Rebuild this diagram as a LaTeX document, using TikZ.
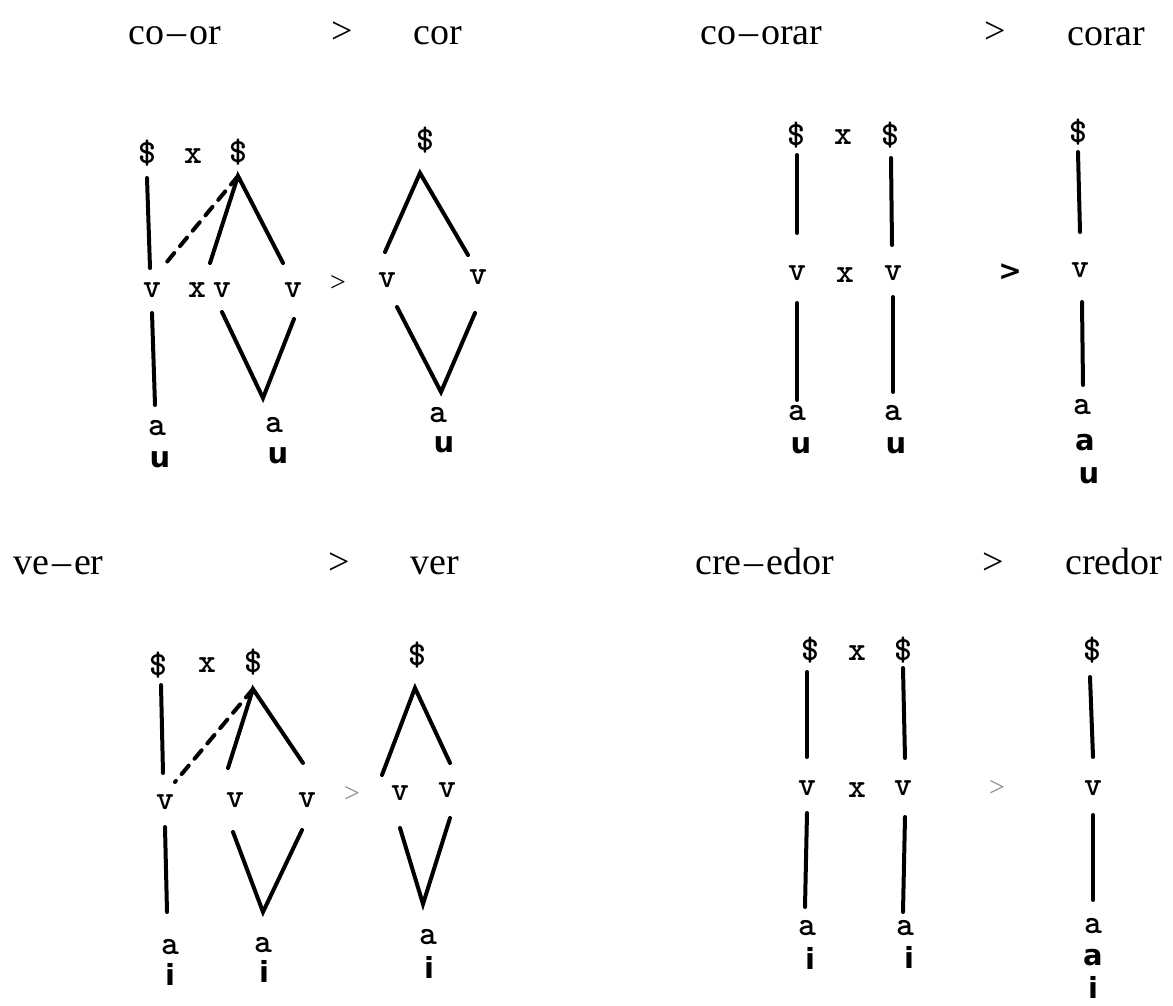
\documentclass[tikz,border=0pt]{standalone}
\usepackage{fontspec}
\setmainfont{Liberation Serif}
\newfontfamily\hwfont{DejaVu Sans}
\begin{document}
\begin{tikzpicture}[x=1pt,y=-1pt,
  title/.style={font=\fontsize{38}{40}\selectfont, anchor=base west, inner sep=0pt},
  gt/.style={font=\fontsize{38}{40}\selectfont, anchor=base, inner sep=0pt},
  lab/.style={font=\ttfamily\bfseries\fontsize{34}{36}\selectfont, inner sep=0pt},
  hand/.style={font=\hwfont\bfseries\fontsize{29}{30}\selectfont, inner sep=0pt},
  gtmark/.style={font=\fontsize{28}{30}\selectfont, inner sep=0pt},
  ln/.style={line width=4pt, line cap=round},
  dln/.style={ln, dash pattern=on 11pt off 9pt}]
\fill[white] (0,0) rectangle (1173,1005);
\useasboundingbox (0,0) rectangle (1173,1005);

% ---------- titles ----------
\node[title] (t1) at (128,44) {co\kern3pt--\kern3pt or};
\node[gt] (g1) at (342,43) {>};
\node[title] (t2) at (413,44) {cor};
\node[title] (t3) at (700,44) {co\kern3pt--\kern3pt orar};
\node[gt] (g2) at (995,43) {>};
\node[title] (t4) at (1067,45) {corar};
\node[title] (t5) at (13,574) {ve\kern3pt--\kern3pt er};
\node[gt] (g3) at (339,574) {>};
\node[title] (t6) at (410,574) {ver};
\node[title] (t7) at (695,574) {cre\kern3pt--\kern3pt edor};
\node[gt] (g4) at (993,574) {>};
\node[title] (t8) at (1065,574) {credor};

% ---------- top-left: co-or > cor ----------
\node[lab] (a_s1) at (147,153) {\$};
\node[lab] (a_x1) at (193,156) {x};
\node[lab] (a_s2) at (238,152) {\$};
\node[lab] (a_v1) at (152,290) {v};
\node[lab] (a_x2) at (197,290) {x};
\node[lab] (a_v2) at (222,290) {v};
\node[lab] (a_v3) at (293,290) {v};
\node[gtmark] (a_gt) at (338,283) {>};
\node[lab] (a_s3) at (425,140) {\$};
\node[lab] (a_v4) at (387,280) {v};
\node[lab] (a_v5) at (478,277) {v};
\node[lab] (a_a1) at (157,428) {a};
\node[hand] (a_u1) at (160,460) {u};
\node[lab] (a_a2) at (274,425) {a};
\node[hand] (a_u2) at (278,456) {u};
\node[lab] (a_a3) at (438,415) {a};
\node[hand] (a_u3) at (444,445) {u};
\coordinate (a_p1) at (147,178); \coordinate (a_p2) at (150,268);
\coordinate (a_top) at (238,176);
\coordinate (a_d) at (166,263);
\coordinate (a_l) at (210,263); \coordinate (a_r) at (283,263);
\coordinate (a_p3) at (152,313); \coordinate (a_p4) at (155,405);
\coordinate (a_q1) at (222,312); \coordinate (a_q2) at (263,398); \coordinate (a_q3) at (294,319);
\coordinate (a_top2) at (420,173);
\coordinate (a_l2) at (385,252); \coordinate (a_r2) at (468,255);
\coordinate (a_w1) at (397,307); \coordinate (a_w2) at (441,392); \coordinate (a_w3) at (475,313);
\draw[ln] (a_p1) -- (a_p2);
\draw[dln] (a_top) -- (a_d);
\draw[ln] (a_l) -- (a_top) -- (a_r);
\draw[ln] (a_p3) -- (a_p4);
\draw[ln] (a_q1) -- (a_q2) -- (a_q3);
\draw[ln] (a_l2) -- (a_top2) -- (a_r2);
\draw[ln] (a_w1) -- (a_w2) -- (a_w3);

% ---------- top-right: co-orar > corar ----------
\node[lab] (b_s1) at (796,135) {\$};
\node[lab] (b_x1) at (843,137) {x};
\node[lab] (b_s2) at (890,135) {\$};
\node[lab] (b_v1) at (797,273) {v};
\node[lab] (b_x2) at (845,275) {x};
\node[lab] (b_v2) at (893,273) {v};
\node[lab] (b_a1) at (797,413) {a};
\node[hand] (b_u1) at (801,446) {u};
\node[lab] (b_a2) at (893,413) {a};
\node[hand] (b_u2) at (896,446) {u};
\node[gtmark, font=\hwfont\bfseries\fontsize{28}{30}\selectfont] (b_gt) at (1010,272) {>};
\node[lab] (b_s3) at (1078,132) {\$};
\node[lab] (b_v3) at (1080,270) {v};
\node[lab] (b_a3) at (1082,407) {a};
\node[hand] (b_a4) at (1085,443) {a};
\node[hand] (b_u3) at (1089,476) {u};
\coordinate (b_p1) at (797,155); \coordinate (b_p2) at (797,233);
\coordinate (b_p3) at (891,158); \coordinate (b_p4) at (892,245);
\coordinate (b_p5) at (797,303); \coordinate (b_p6) at (797,400);
\coordinate (b_p7) at (893,297); \coordinate (b_p8) at (893,392);
\coordinate (b_p9) at (1078,152); \coordinate (b_p10) at (1080,232);
\coordinate (b_p11) at (1082,302); \coordinate (b_p12) at (1083,385);
\draw[ln] (b_p1) -- (b_p2);
\draw[ln] (b_p3) -- (b_p4);
\draw[ln] (b_p5) -- (b_p6);
\draw[ln] (b_p7) -- (b_p8);
\draw[ln] (b_p9) -- (b_p10);
\draw[ln] (b_p11) -- (b_p12);

% ---------- bottom-left: ve-er > ver ----------
\node[lab] (c_s1) at (158,665) {\$};
\node[lab] (c_x1) at (207,665) {x};
\node[lab] (c_s2) at (253,662) {\$};
\node[lab] (c_v1) at (165,802) {v};
\node[lab] (c_v2) at (235,800) {v};
\node[lab] (c_v3) at (307,800) {v};
\node[gtmark, text=black!45] (c_gt) at (352,794) {>};
\node[lab] (c_s3) at (417,655) {\$};
\node[lab] (c_v4) at (400,793) {v};
\node[lab] (c_v5) at (447,790) {v};
\node[lab] (c_a1) at (170,947) {a};
\node[hand] (c_i1) at (170,974) {i};
\node[lab] (c_a2) at (263,945) {a};
\node[hand] (c_i2) at (264,971) {i};
\node[lab] (c_a3) at (428,937) {a};
\node[hand] (c_i3) at (429,967) {i};
\coordinate (c_p1) at (161,685); \coordinate (c_p2) at (163,773);
\coordinate (c_top) at (253,689);
\coordinate (c_d) at (175,782);
\coordinate (c_l) at (228,768); \coordinate (c_r) at (303,763);
\coordinate (c_p3) at (165,827); \coordinate (c_p4) at (167,912);
\coordinate (c_q1) at (233,832); \coordinate (c_q2) at (263,912); \coordinate (c_q3) at (302,830);
\coordinate (c_top2) at (415,688);
\coordinate (c_l2) at (382,775); \coordinate (c_r2) at (450,763);
\coordinate (c_w1) at (400,828); \coordinate (c_w2) at (423,904); \coordinate (c_w3) at (450,818);
\draw[ln] (c_p1) -- (c_p2);
\draw[dln] (c_top) -- (c_d);
\draw[ln] (c_l) -- (c_top) -- (c_r);
\draw[ln] (c_p3) -- (c_p4);
\draw[ln] (c_q1) -- (c_q2) -- (c_q3);
\draw[ln] (c_l2) -- (c_top2) -- (c_r2);
\draw[ln] (c_w1) -- (c_w2) -- (c_w3);

% ---------- bottom-right: cre-edor > credor ----------
\node[lab] (d_s1) at (810,650) {\$};
\node[lab] (d_x1) at (857,653) {x};
\node[lab] (d_s2) at (903,650) {\$};
\node[lab] (d_v1) at (807,788) {v};
\node[lab] (d_x2) at (857,790) {x};
\node[lab] (d_v2) at (903,788) {v};
\node[gtmark, text=black!45] (d_gt) at (997,788) {>};
\node[lab] (d_a1) at (807,928) {a};
\node[hand] (d_i1) at (810,958) {i};
\node[lab] (d_a2) at (905,928) {a};
\node[hand] (d_i2) at (909,957) {i};
\node[lab] (d_s3) at (1092,650) {\$};
\node[lab] (d_v3) at (1093,788) {v};
\node[lab] (d_a3) at (1093,926) {a};
\node[hand] (d_a4) at (1093,958) {a};
\node[hand] (d_i3) at (1093,987) {i};
\coordinate (d_p1) at (807,672); \coordinate (d_p2) at (807,757);
\coordinate (d_p3) at (903,668); \coordinate (d_p4) at (905,758);
\coordinate (d_p5) at (807,813); \coordinate (d_p6) at (805,907);
\coordinate (d_p7) at (905,817); \coordinate (d_p8) at (903,912);
\coordinate (d_p9) at (1090,677); \coordinate (d_p10) at (1093,757);
\coordinate (d_p11) at (1093,815); \coordinate (d_p12) at (1093,900);
\draw[ln] (d_p1) -- (d_p2);
\draw[ln] (d_p3) -- (d_p4);
\draw[ln] (d_p5) -- (d_p6);
\draw[ln] (d_p7) -- (d_p8);
\draw[ln] (d_p9) -- (d_p10);
\draw[ln] (d_p11) -- (d_p12);
\end{tikzpicture}
\end{document}
